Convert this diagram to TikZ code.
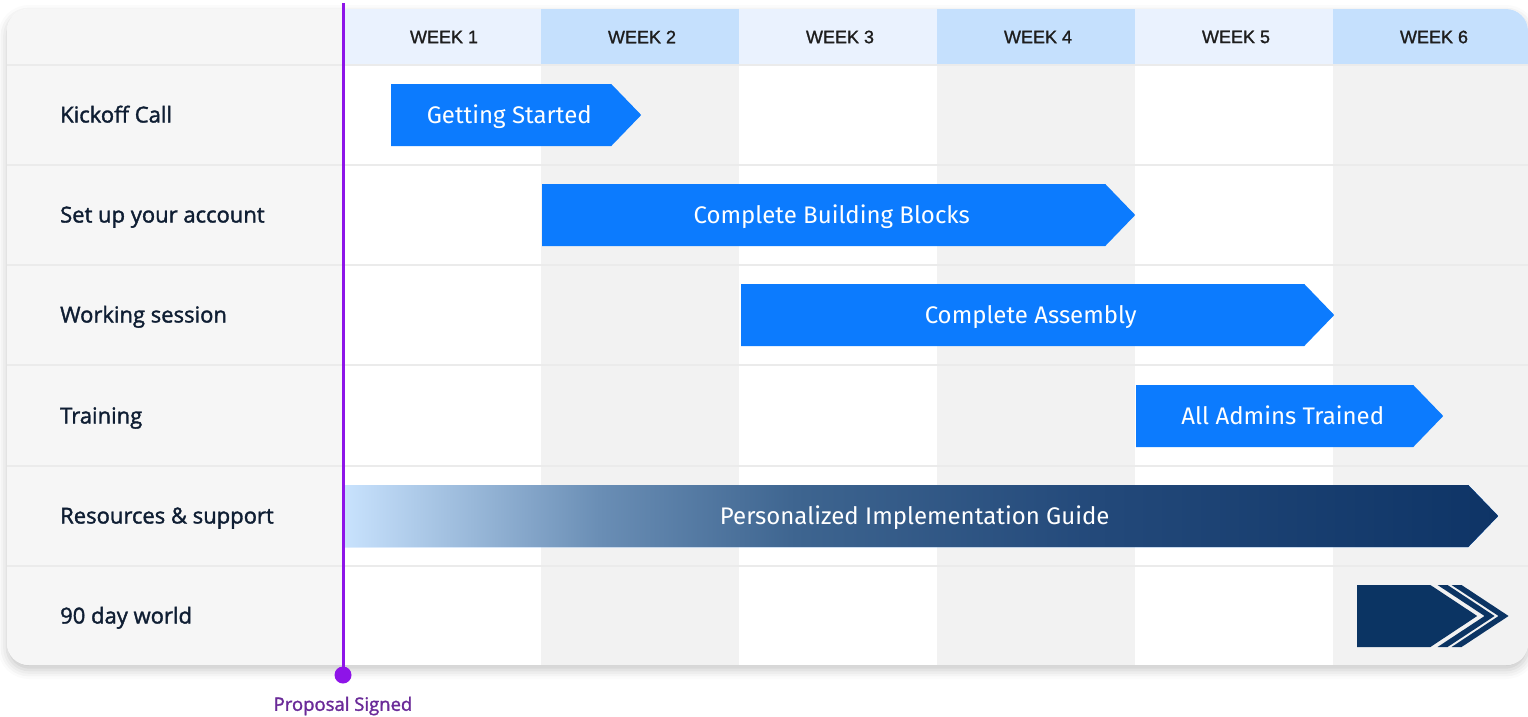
\documentclass[tikz,border=0pt]{standalone}
\usepackage{fontspec}
\setmainfont{Open Sans}
\newfontfamily\lblfont[FakeBold=1.6]{Open Sans}
\newfontfamily\barfont{Fira Sans}
\newfontfamily\hdrfont[FakeBold=1.2]{Liberation Sans}
\usetikzlibrary{shapes.symbols,shadows.blur,calc}

\definecolor{leftgray}{HTML}{F6F6F6}
\definecolor{colgray}{HTML}{F2F2F2}
\definecolor{sepgray}{HTML}{EBEBEB}
\definecolor{hdrlight}{HTML}{EAF2FE}
\definecolor{hdrdark}{HTML}{C5E0FD}
\definecolor{barblue}{HTML}{0C7BFE}
\definecolor{navy}{HTML}{0B3463}
\definecolor{ink}{HTML}{0F1E33}
\definecolor{wkink}{HTML}{1E1E1E}
\definecolor{propline}{HTML}{8E14E8}
\definecolor{propink}{HTML}{6A2A98}
\definecolor{guidelight}{HTML}{C8E2FD}
\definecolor{guidea}{HTML}{6A8EB5}
\definecolor{guideb}{HTML}{3E6590}
\definecolor{guidec}{HTML}{23497A}
\definecolor{guided}{HTML}{0E3466}

\pgfdeclarehorizontalshading{guideshade}{100bp}{color(0bp)=(guidelight); color(25bp)=(guidelight);
  color(36bp)=(guidea); color(44.5bp)=(guideb); color(57.5bp)=(guidec); color(75bp)=(guided);
  color(100bp)=(guided)}

\begin{document}
\begin{tikzpicture}[
  x=1pt, y=-1pt,
  rowlbl/.style={anchor=west, inner sep=0pt, text=ink, text height=15pt, text depth=0pt,
                 font=\lblfont\fontsize{22}{26}\selectfont},
  wk/.style={text=wkink, font=\hdrfont\fontsize{18}{22}\selectfont},
  barbox/.style={shape=signal, signal to=east, signal pointer angle=92, fill=barblue,
                 text=white, minimum height=62pt, inner sep=0pt, anchor=west,
                 text height=16.5pt, text depth=0pt,
                 execute at begin node=\hspace*{16pt},
                 font=\barfont\fontsize{24}{28}\selectfont},
  sepline/.style={draw=sepgray, line width=2pt},
  card/.style={rounded corners=22pt}
]
\useasboundingbox (0,0) rectangle (1528,716);

% ---- card with shadow
\path[card, fill=white, blur shadow={shadow xshift=0pt, shadow yshift=-5pt,
      shadow blur radius=9pt, shadow opacity=22}] (7,9) rectangle (1528,665);

\begin{scope}
  \clip[card] (7,9) rectangle (1528,665);
  \fill[leftgray] (7,9) rectangle (343,665);
  % ---- week columns
  \foreach \i in {1,...,6} {
    \pgfmathsetmacro{\xa}{343+(\i-1)*198}
    \pgfmathsetmacro{\xb}{\xa+198}
    \ifodd\i
      \fill[hdrlight] (\xa,9) rectangle (\xb,64);
    \else
      \fill[hdrdark] (\xa,9) rectangle (\xb,64);
      \fill[colgray] (\xa,64) rectangle (\xb,665);
    \fi
    \node[wk] (w\i) at ({\xa+101},37) {WEEK \i};
  }
  % ---- row separators
  \foreach \y in {65,165,265,365,466,566}
    \draw[sepline] (7,\y) -- (1528,\y);
\end{scope}

% ---- row labels
\node[rowlbl] (r1) at (60,115) {Kickoff Call};
\node[rowlbl] (r2) at (60,215) {Set up your account};
\node[rowlbl] (r3) at (60,315) {Working session};
\node[rowlbl] (r4) at (60,416) {Training};
\node[rowlbl] (r5) at (60,516) {Resources \& support};
\node[rowlbl] (r6) at (60,616) {90 day world};

% ---- bars
\node[barbox, minimum width=250pt] (b1) at (391,115) {Getting Started};
\node[barbox, minimum width=593pt] (b2) at (542,215) {Complete Building Blocks};
\node[barbox, minimum width=593pt] (b3) at (741,315) {Complete Assembly};
\node[barbox, minimum width=307pt] (b4) at (1136,416) {All Admins Trained};
\node[barbox, minimum width=1153pt, shading=guideshade] (b5) at (345,516)
  {Personalized Implementation Guide};
\node[barbox, minimum width=120pt, fill=navy, signal pointer angle=67] (b6) at (1357,616) {};
\foreach \o in {7,21}
  \fill[navy] ($(b6.east)+(\o-47,-31)$) -- ++(10,0) -- ++(47,31) -- ++(-47,31)
    -- ++(-10,0) -- ++(47,-31) -- cycle;

% ---- proposal signed marker
\coordinate (ptop) at (343,3);
\coordinate (pdot) at (343,675);
\draw[propline, line width=3pt] (ptop) -- (pdot);
\fill[propline] (pdot) circle (8.5pt);
\node[text=propink, font=\lblfont\fontsize{18.5}{22}\selectfont] (plbl) at (343,706) {Proposal Signed};
\end{tikzpicture}
\end{document}
